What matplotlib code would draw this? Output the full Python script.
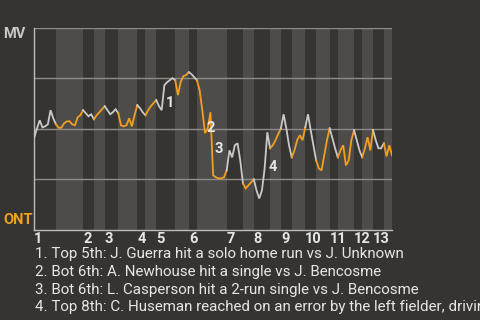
import matplotlib
matplotlib.use("Agg")
import matplotlib.pyplot as plt
import numpy as np

# ---- data ----
away_team = "MV"
home_team = "ONT"
# number of events in each half-inning (top 1, bot 1, top 2, ...)
half_inning_events = [8, 10, 4, 4, 5, 7, 3, 4, 7, 5, 3, 11, 6, 4, 6, 4, 4, 5, 4, 5, 3, 6, 3, 4, 4, 3]
inning_labels = ["1", "2", "3", "4", "5", "6", "7", "8", "9", "10", "11", "12", "13"]
# MV win probability after each event (index 0 = start of game)
win_prob = [
    0.458, 0.502, 0.542, 0.507, 0.512, 0.522, 0.592, 0.552, 0.522,
    0.505, 0.505, 0.527, 0.537, 0.537, 0.522, 0.517, 0.557, 0.567, 0.592,
    0.577, 0.562, 0.572, 0.547,
    0.567, 0.582, 0.597, 0.612,
    0.592, 0.572, 0.582, 0.597, 0.577,
    0.517, 0.512, 0.517, 0.552, 0.512, 0.567, 0.617,
    0.602, 0.582, 0.567,
    0.592, 0.612, 0.627, 0.642,
    0.612, 0.592, 0.716, 0.731, 0.741, 0.751, 0.741,
    0.667, 0.731, 0.761, 0.766, 0.781,
    0.771, 0.756, 0.741,
    0.692, 0.592, 0.478, 0.502, 0.582, 0.269, 0.259, 0.254, 0.254, 0.259, 0.294,
    0.393, 0.358, 0.418, 0.428, 0.343, 0.229,
    0.204, 0.219, 0.234, 0.249,
    0.194, 0.154, 0.194, 0.303, 0.483, 0.403,
    0.418, 0.443, 0.473, 0.502,
    0.572, 0.502, 0.418, 0.358,
    0.393, 0.443, 0.468, 0.443, 0.507,
    0.572, 0.493, 0.418, 0.343,
    0.303, 0.294, 0.368, 0.443, 0.502,
    0.453, 0.403, 0.358,
    0.393, 0.418, 0.318, 0.343, 0.443, 0.493,
    0.443, 0.393, 0.358,
    0.403, 0.458, 0.393, 0.493,
    0.443, 0.403, 0.403, 0.428,
    0.363, 0.418, 0.368,
]
note_events = [48, 63, 66, 86]
note_levels = [0.629, 0.505, 0.398, 0.310]
notes = [
    "1. Top 5th: J. Guerra hit a solo home run vs J. Unknown",
    "2. Bot 6th: A. Newhouse hit a single vs J. Bencosme",
    "3. Bot 6th: L. Casperson hit a 2-run single vs J. Bencosme",
    "4. Top 8th: C. Huseman reached on an error by the left fielder, driving in a run",
]

# ---- style ----
bg = "#363431"
stripe = "#4d4c4a"
away_col = "#c9c9c9"
home_col = "#f29f1f"
text_col = "#e6e6e6"

plt.rcParams["font.family"] = ["Roboto", "DejaVu Sans"]

fig = plt.figure(figsize=(4.8, 3.2), dpi=100, facecolor=bg)
ax = fig.add_axes([34.3 / 480, 1 - 229.5 / 320, (392 - 34.3) / 480, (229.5 - 28) / 320])
ax.set_facecolor(bg)

bounds = np.concatenate([[0], np.cumsum(half_inning_events)])
x = np.arange(len(win_prob))
wp = np.array(win_prob)

for k in range(len(half_inning_events)):
    a, b = bounds[k], bounds[k + 1]
    if k % 2 == 1:
        ax.axvspan(a, b, color=stripe, lw=0, zorder=0)
    ax.plot(x[a:b + 1], wp[a:b + 1], color=away_col if k % 2 == 0 else home_col,
            lw=1.3, solid_joinstyle="miter", zorder=3)

for yv in [0.25, 0.5, 0.75, 1.0]:
    ax.axhline(yv, color="#8c8b89", lw=1.0, zorder=1)

ax.set_xlim(0, bounds[-1])
ax.set_ylim(0, 1)
for s in ["top", "right"]:
    ax.spines[s].set_visible(False)
for s in ["left", "bottom"]:
    ax.spines[s].set_color("#bdbdbd")
    ax.spines[s].set_linewidth(1.0)
ax.set_yticks([])
ax.set_xticks(bounds[0:-1:2])
ax.set_xticklabels(inning_labels, fontsize=10.5, fontweight="bold", color=text_col, ha="left")
ax.tick_params(axis="x", length=0, pad=1.5)

for ev, lvl, n in zip(note_events, note_levels, range(1, len(note_events) + 1)):
    ax.annotate(str(n), xy=(ev, lvl), xytext=(1, 0), textcoords="offset points",
                ha="left", va="center", fontsize=10.5, fontweight="bold", color=text_col, zorder=5)

fig.text(3 / 480, 1 - 33.5 / 320, away_team, fontsize=10.5, fontweight="bold", color=away_col,
         ha="left", va="center")
fig.text(3 / 480, 1 - 219.5 / 320, home_team, fontsize=10.5, fontweight="bold", color=home_col,
         ha="left", va="center")

for i, t in enumerate(notes):
    fig.text(35 / 480, 1 - (258 + i * 17.8) / 320, t, fontsize=10.9, color=text_col,
             ha="left", va="baseline")

fig.savefig("out.png", dpi=100, facecolor=bg)
